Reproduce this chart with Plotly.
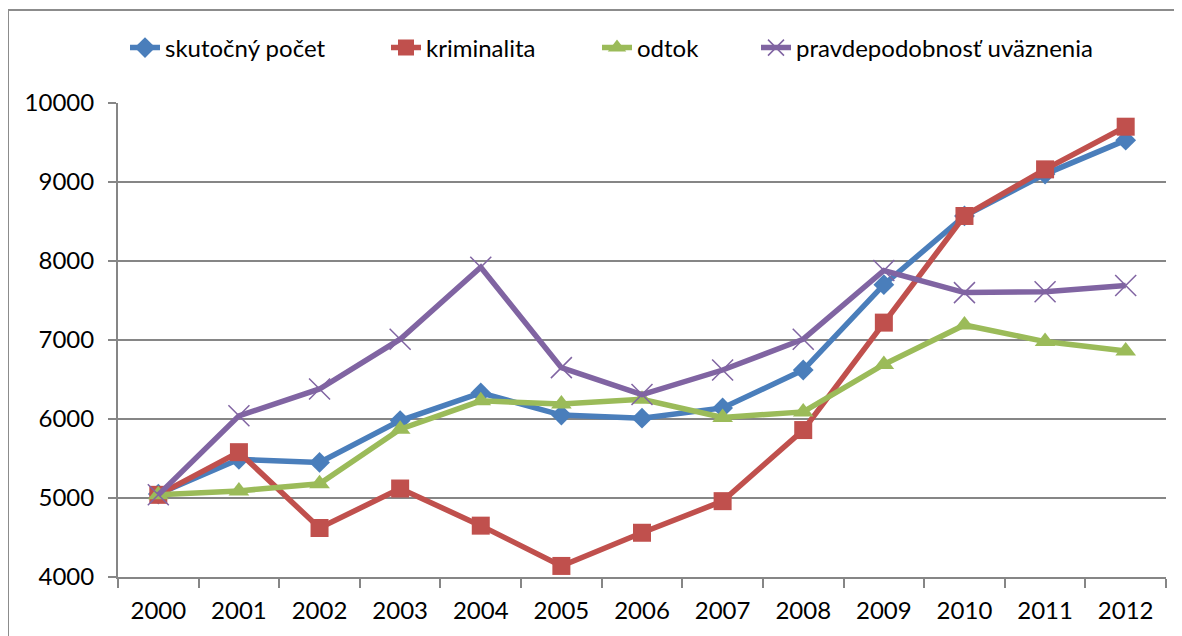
import plotly.graph_objects as go

years = ["2000", "2001", "2002", "2003", "2004", "2005", "2006",
         "2007", "2008", "2009", "2010", "2011", "2012"]
skutocny = [5050, 5490, 5450, 5980, 6330, 6050, 6010, 6140, 6620, 7700, 8570, 9100, 9530]
kriminalita = [5040, 5580, 4620, 5120, 4650, 4140, 4560, 4960, 5860, 7220, 8570, 9160, 9700]
odtok = [5040, 5090, 5180, 5870, 6230, 6190, 6250, 6020, 6090, 6690, 7190, 6980, 6860]
pravdepodobnost = [5040, 6040, 6380, 7010, 7920, 6650, 6310, 6620, 7010, 7880, 7600, 7610, 7690]

names = ["skutočný počet", "kriminalita", "odtok", "pravdepodobnosť uväznenia"]
series = [skutocny, kriminalita, odtok, pravdepodobnost]
colors = ["#4A7EBB", "#C0504D", "#9BBB59", "#8064A2"]
symbols = ["diamond", "square", "triangle-up", "x-thin"]
sizes = [16, 18, 18, 21]
legend_ids = ["legend", "legend2", "legend3", "legend4"]
legend_text_x = [165, 426, 637, 796]

# page body has an 8px default margin; figure is sized to fit the window
OFF = 8
W, H = 1182 - OFF, 636 - OFF
ml, mt = 118 - OFF, 103 - OFF
plot_r, plot_b = 1166 - OFF, 577 - OFF
mr, mb = W - plot_r, H - plot_b
pw, ph = plot_r - ml, plot_b - mt

fig = go.Figure()
for n, s, c, sym, sz, lid in zip(names, series, colors, symbols, sizes, legend_ids):
    marker = dict(symbol=sym, size=sz, color=c)
    if sym == "x-thin":
        marker["line"] = dict(color=c, width=1.5)
    fig.add_trace(go.Scatter(x=years, y=s, name=n, mode="lines+markers", legend=lid,
                             line=dict(color=c, width=5.5), marker=marker))

fig.add_shape(type="rect", xref="paper", yref="paper",
              x0=(8 - OFF - ml) / pw, x1=(1177 - OFF - ml) / pw,
              y0=(plot_b - 700) / ph, y1=(plot_b - (10 - OFF)) / ph,
              line=dict(color="#8C8C8C", width=2), layer="below")

legend_common = dict(orientation="h", xanchor="left", yanchor="middle",
                     y=(plot_b - (48 - OFF)) / ph, font=dict(size=24),
                     bgcolor="rgba(0,0,0,0)", borderwidth=0)
legends = {}
for lid, tx in zip(legend_ids, legend_text_x):
    legends[lid] = dict(legend_common, x=(tx - OFF - 40 - ml) / pw)

fig.update_layout(
    width=W, height=H,
    margin=dict(l=ml, r=mr, t=mt, b=mb, autoexpand=False),
    paper_bgcolor="white", plot_bgcolor="white",
    font=dict(family="Lato, Open Sans, sans-serif", size=24, color="black"),
    showlegend=True,
    xaxis=dict(type="category", range=[-0.5, 12.5], showgrid=False, showline=True,
               linecolor="#868686", linewidth=2, ticks="outside",
               tickson="boundaries", ticklen=9, tickcolor="#868686", tickwidth=2,
               ticklabelstandoff=11, tickfont=dict(size=24)),
    yaxis=dict(range=[4000, 10000], dtick=1000, tickformat="d", showgrid=True,
               gridcolor="#868686", gridwidth=1.5, showline=True,
               linecolor="#868686", linewidth=2, ticks="outside", ticklen=8,
               tickcolor="#868686", tickwidth=2, zeroline=False,
               ticklabelstandoff=9, tickfont=dict(size=24)),
    **legends,
)

fig.write_html("out.html")
